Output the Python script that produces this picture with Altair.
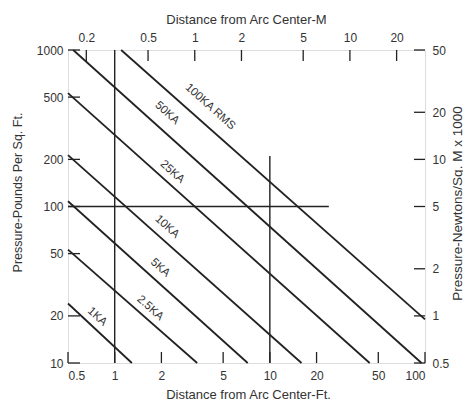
import altair as alt
import pandas as pd

# Arc current curves (feet, pounds per sq ft)
currents = ["1KA", "2.5KA", "5KA", "10KA", "25KA", "50KA", "100KA RMS"]
start_ft = [0.5, 0.5, 0.5, 0.5, 0.5, 0.54, 1.1]
start_psf = [24, 53, 108, 213, 530, 1000, 1000]
end_ft = [1.29, 3.4, 7.2, 16, 44, 95, 100]
end_psf = [10, 10, 10, 10, 10, 10, 19]
label_ft = [0.77, 1.69, 1.96, 2.17, 2.35, 2.17, 4.12]
label_psf = [19.7, 22.4, 40.5, 74, 166, 395, 433]

# Reference (guide) lines
guide_x = [1, 10, 0.5]
guide_x2 = [1, 10, 24]
guide_y = [10, 10, 100]
guide_y2 = [1000, 210, 100]

# Axis ticks
ft_ticks = [0.5, 1, 2, 5, 10, 20, 50, 100]
m_ticks = [0.2, 0.5, 1, 2, 5, 10, 20]
psf_ticks = [10, 20, 50, 100, 200, 500, 1000]
kn_ticks = [0.5, 1, 2, 5, 10, 20, 50]

FT_PER_M = 3.2808
W, H = 357, 313
FONT = "Liberation Sans"
INK = "#222222"
TXT = "#333333"

xs = alt.Scale(type="log", domain=[0.5, 100], nice=False)
ys = alt.Scale(type="log", domain=[10, 1000], nice=False)
xm = alt.Scale(type="log", domain=[0.5 / FT_PER_M, 100 / FT_PER_M], nice=False)
yk = alt.Scale(type="log", domain=[0.5, 50], nice=False)

curves = pd.DataFrame({"name": currents, "x": start_ft, "y": start_psf,
                       "x2": end_ft, "y2": end_psf})
labels = pd.DataFrame({"name": currents, "x": label_ft, "y": label_psf})
guides = pd.DataFrame({"x": guide_x, "x2": guide_x2, "y": guide_y, "y2": guide_y2})

common_axis = dict(grid=False, domain=False, ticks=False, format="~g",
                   labelFont=FONT, labelFontSize=12, labelColor=TXT,
                   titleFont=FONT, titleFontWeight="normal", titleColor=TXT,
                   titleBaseline="middle", titleAlign="center")

curve_layer = alt.Chart(curves).mark_rule(color=INK, strokeWidth=1.8).encode(
    x=alt.X("x:Q", scale=xs, axis=alt.Axis(
        values=ft_ticks, orient="bottom", title="Distance from Arc Center-Ft.",
        labelPadding=7, titleX=180, titleY=31, titleFontSize=13, **common_axis)),
    x2="x2:Q",
    y=alt.Y("y:Q", scale=ys, axis=alt.Axis(
        values=psf_ticks, orient="left", title="Pressure-Pounds Per Sq. Ft.",
        labelPadding=5, titleX=-51, titleY=142, titleAngle=270, titleFontSize=12.5,
        **common_axis)),
    y2="y2:Q",
)

guide_layer = alt.Chart(guides).mark_rule(color=INK, strokeWidth=1.4).encode(
    x=alt.X("x:Q", scale=xs, axis=None), x2="x2:Q",
    y=alt.Y("y:Q", scale=ys, axis=None), y2="y2:Q",
)

label_layer = alt.Chart(labels).mark_text(
    angle=42, font=FONT, fontSize=11.5, color=TXT, align="center", baseline="middle"
).encode(
    x=alt.X("x:Q", scale=xs, axis=None),
    y=alt.Y("y:Q", scale=ys, axis=None),
    text="name:N",
)

bottom_ticks = alt.Chart(pd.DataFrame({"v": ft_ticks})).mark_rule(color=INK, strokeWidth=1.3).encode(
    x=alt.X("v:Q", scale=xs, axis=None), y=alt.value(H), y2=alt.value(H - 11))

left_ticks = alt.Chart(pd.DataFrame({"v": psf_ticks})).mark_rule(color=INK, strokeWidth=1.3).encode(
    y=alt.Y("v:Q", scale=ys, axis=None), x=alt.value(0), x2=alt.value(12))

top_ticks = alt.Chart(pd.DataFrame({"v": m_ticks})).mark_rule(color=INK, strokeWidth=1.3).encode(
    x=alt.X("v:Q", scale=xm, axis=alt.Axis(
        values=m_ticks, orient="top", title="Distance from Arc Center-M",
        labelPadding=6, titleX=178, titleY=-31, titleFontSize=13, **common_axis)),
    y=alt.value(0), y2=alt.value(11))

right_ticks = alt.Chart(pd.DataFrame({"v": kn_ticks})).mark_rule(color=INK, strokeWidth=1.3).encode(
    y=alt.Y("v:Q", scale=yk, axis=alt.Axis(
        values=kn_ticks, orient="right", title="Pressure-Newtons/Sq. M x 1000",
        labelPadding=7, titleX=32, titleY=153, titleAngle=270, titleFontSize=13.5,
        **common_axis)),
    x=alt.value(W - 11), x2=alt.value(W))

chart = alt.layer(
    guide_layer, curve_layer, label_layer, bottom_ticks, left_ticks, top_ticks, right_ticks
).resolve_scale(x="independent", y="independent").properties(
    width=W, height=H,
    autosize=alt.AutoSizeParams(type="none"),
    padding={"left": 60, "top": 42, "right": 38, "bottom": 40},
).configure_view(stroke=INK, strokeWidth=1.6).configure(background="white")

chart.save("out.html", embed_options={"renderer": "svg", "actions": False})
